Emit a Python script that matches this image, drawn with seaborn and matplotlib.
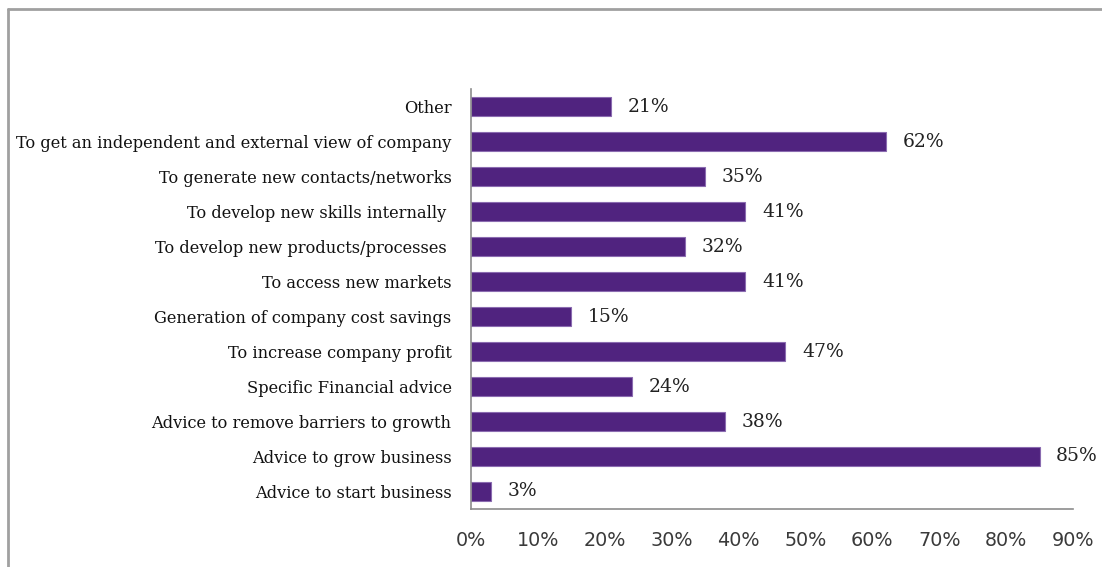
import matplotlib
matplotlib.use("Agg")
import matplotlib.pyplot as plt
import seaborn as sns
import pandas as pd
from matplotlib.lines import Line2D

reasons = [
    "Other",
    "To get an independent and external view of company",
    "To generate new contacts/networks",
    "To develop new skills internally ",
    "To develop new products/processes ",
    "To access new markets",
    "Generation of company cost savings",
    "To increase company profit",
    "Specific Financial advice",
    "Advice to remove barriers to growth",
    "Advice to grow business",
    "Advice to start business",
]
shares = [21, 62, 35, 41, 32, 41, 15, 47, 24, 38, 85, 3]
x_ticks = [0, 10, 20, 30, 40, 50, 60, 70, 80, 90]

df = pd.DataFrame({"reason": reasons, "share": shares})

sns.set_style("white")
plt.rcParams["font.family"] = ["DejaVu Serif"]

fig = plt.figure(figsize=(11.02, 5.67), dpi=100)
ax = fig.add_axes([0.4274, 0.1023, 0.9737 - 0.4274, 0.843 - 0.1023])

sns.barplot(data=df, x="share", y="reason", order=reasons, orient="h",
            color="#50237f", saturation=1, width=0.55,
            edgecolor="#8a6bb0", linewidth=0.8, ax=ax)

ax.set_xlim(0, 90)
ax.set_xticks(x_ticks)
ax.set_xticklabels([f"{t}%" for t in x_ticks],
                   family=["DejaVu Sans"], fontsize=13.8, color="#3a3a3a")
ax.tick_params(axis="x", length=0, pad=16)
ax.tick_params(axis="y", length=0, pad=14, labelsize=11.7, labelcolor="#111111")
ax.set_xlabel("")
ax.set_ylabel("")

for side in ["top", "right"]:
    ax.spines[side].set_visible(False)
for side in ["left", "bottom"]:
    ax.spines[side].set_color("#8c8c8c")
    ax.spines[side].set_linewidth(1.2)

for container in ax.containers:
    ax.bar_label(container, labels=[f"{v}%" for v in shares], padding=12,
                 fontsize=13.5, color="#222222")

# outer frame lines along the top and left edges
fig.add_artist(Line2D([0.0073, 1.0], [0.984, 0.984], transform=fig.transFigure,
                      color="#a0a0a0", linewidth=2))
fig.add_artist(Line2D([0.0073, 0.0073], [0.0, 0.984], transform=fig.transFigure,
                      color="#a0a0a0", linewidth=2))

fig.savefig("out.png", dpi=100, facecolor="white")
